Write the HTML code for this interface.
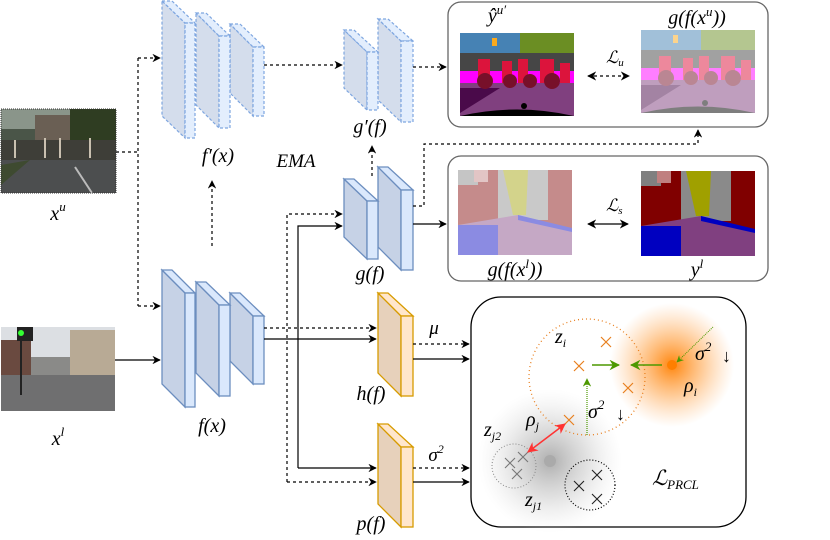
<!DOCTYPE html>
<html><head><meta charset="utf-8"><style>
html,body{margin:0;padding:0;background:#fff}
svg{display:block}
text{font-family:"Liberation Serif",serif;font-style:italic;fill:#000}
</style></head><body>
<svg width="830" height="540" viewBox="0 0 830 540" xmlns="http://www.w3.org/2000/svg">
<defs>
<marker id="ah" viewBox="0 0 10 10" refX="9" refY="5" markerWidth="7" markerHeight="7" orient="auto-start-reverse"><path d="M0,0 L10,5 L0,10 L3,5 Z" fill="#000"/></marker>
<marker id="ag" viewBox="0 0 10 10" refX="9" refY="5" markerWidth="7" markerHeight="7" orient="auto-start-reverse"><path d="M0,0 L10,5 L0,10 L3,5 Z" fill="#4d9900"/></marker>
<marker id="ar" viewBox="0 0 10 10" refX="9" refY="5" markerWidth="7" markerHeight="7" orient="auto-start-reverse"><path d="M0,0 L10,5 L0,10 L3,5 Z" fill="#ff3333"/></marker>
<radialGradient id="og"><stop offset="0" stop-color="#ff7f00" stop-opacity="0.95"/><stop offset="0.5" stop-color="#ff9933" stop-opacity="0.5"/><stop offset="1" stop-color="#ffb066" stop-opacity="0"/></radialGradient>
<radialGradient id="gg"><stop offset="0" stop-color="#999" stop-opacity="0.8"/><stop offset="0.5" stop-color="#bbb" stop-opacity="0.45"/><stop offset="1" stop-color="#ddd" stop-opacity="0"/></radialGradient>
<g id="segU">
<rect x="0" y="0" width="114" height="83" fill="#6b8e23"/>
<rect x="0" y="0" width="60" height="30" fill="#4682b4"/>
<rect x="0" y="20" width="114" height="25" fill="#464646"/>
<rect x="0" y="38" width="114" height="15" fill="#ff00ff"/>
<rect x="0" y="50" width="114" height="33" fill="#80407f"/>
<polygon points="0,55 40,55 0,80" fill="#4a0a4a"/>
<g fill="#dc143c"><rect x="18" y="26" width="12" height="26"/><rect x="42" y="28" width="10" height="22"/><rect x="58" y="26" width="10" height="24"/><rect x="80" y="26" width="14" height="24"/><rect x="100" y="30" width="10" height="20"/></g>
<g fill="#77102a"><circle cx="25" cy="48" r="8"/><circle cx="50" cy="48" r="7"/><circle cx="70" cy="48" r="7"/><circle cx="92" cy="48" r="8"/></g>
<rect x="32" y="5" width="5" height="8" fill="#faaa1e"/>
<path d="M0,83 Q57,70 114,83 Z" fill="#000"/><circle cx="64" cy="73" r="3" fill="#000"/>
</g>
<g id="segL">
<rect x="0" y="0" width="114" height="85" fill="#800000"/>
<rect x="0" y="0" width="20" height="15" fill="#808080"/>
<rect x="40" y="0" width="50" height="50" fill="#8a8a8a"/>
<polygon points="45,0 70,0 68,45 55,45" fill="#a0a000"/>
<rect x="16" y="0" width="14" height="12" fill="#c08080"/>
<polygon points="0,55 60,45 114,60 114,85 0,85" fill="#804080"/>
<polygon points="0,55 40,55 40,85 0,85" fill="#0000c0"/>
<polygon points="60,45 114,58 114,62 60,50" fill="#0000c0"/>
</g>
</defs>

<g>
<rect x="1" y="109" width="115" height="84" fill="#4a5548"/>
<rect x="1" y="109" width="115" height="20" fill="#8a958a"/>
<rect x="35" y="115" width="40" height="28" fill="#6a5f54"/>
<rect x="70" y="109" width="46" height="38" fill="#2f3d22"/>
<rect x="1" y="140" width="115" height="20" fill="#3e3e38"/>
<rect x="1" y="160" width="115" height="33" fill="#4c4e4f"/>
<polygon points="1,165 30,160 1,185" fill="#3e4a30"/>
<g stroke="#c9c0b0" stroke-width="2"><line x1="15" y1="140" x2="15" y2="158"/><line x1="45" y1="138" x2="45" y2="158"/><line x1="60" y1="138" x2="60" y2="158"/><line x1="90" y1="138" x2="90" y2="158"/></g>
<line x1="75" y1="167" x2="92" y2="193" stroke="#bbb" stroke-width="2"/>
<rect x="1" y="109" width="115" height="84" fill="none" stroke="#333" stroke-width="1" stroke-dasharray="1 1"/>
</g>
<g>
<rect x="1" y="327" width="114" height="84" fill="#8a8a88"/>
<rect x="1" y="327" width="114" height="30" fill="#dcdfe3"/>
<rect x="1" y="340" width="30" height="40" fill="#6a4a40"/>
<rect x="70" y="330" width="45" height="50" fill="#b8aa95"/>
<rect x="1" y="375" width="114" height="36" fill="#6f6f70"/>
<rect x="17" y="327" width="16" height="14" fill="#222"/><circle cx="21" cy="333" r="3" fill="#3f3"/>
<line x1="21" y1="341" x2="21" y2="395" stroke="#222" stroke-width="2"/>
</g>

<rect x="448" y="2" width="320" height="125" rx="13" fill="none" stroke="#666" stroke-width="1.3"/>
<use href="#segU" x="460" y="33"/>
<g opacity="0.5"><use href="#segU" x="641" y="30"/></g>
<text x="497" y="22" font-size="20" text-anchor="middle">ŷ<tspan font-size="13" dy="-8">u′</tspan></text>
<text x="697" y="24" font-size="20" text-anchor="middle">g(f(x<tspan font-size="13" dy="-8">u</tspan><tspan dy="8">))</tspan></text>
<text x="606" y="63" font-size="17">ℒ<tspan font-size="11" dy="3">u</tspan></text>
<line x1="588" y1="76" x2="629" y2="76" stroke="#000" stroke-width="1.3" stroke-dasharray="3 3" marker-start="url(#ah)" marker-end="url(#ah)"/>

<rect x="448" y="156" width="320" height="125" rx="13" fill="none" stroke="#666" stroke-width="1.3"/>
<g opacity="0.45"><use href="#segL" x="458" y="170"/></g>
<use href="#segL" x="641" y="171"/>
<text x="515" y="276" font-size="20" text-anchor="middle">g(f(x<tspan font-size="13" dy="-8">l</tspan><tspan dy="8">))</tspan></text>
<text x="697" y="276" font-size="20" text-anchor="middle">y<tspan font-size="13" dy="-8">l</tspan></text>
<text x="606" y="211" font-size="17">ℒ<tspan font-size="11" dy="3">s</tspan></text>
<line x1="588" y1="224" x2="628" y2="224" stroke="#000" stroke-width="1.3" marker-start="url(#ah)" marker-end="url(#ah)"/>

<rect x="471" y="297" width="275" height="230" rx="30" fill="#fff" stroke="#000" stroke-width="1.3"/>
<circle cx="672" cy="365" r="62" fill="url(#og)"/>
<circle cx="550" cy="461" r="72" fill="url(#gg)"/>
<circle cx="672" cy="365" r="5" fill="#ff7f00"/>
<circle cx="550" cy="461" r="6" fill="#aaa"/>
<circle cx="587" cy="377" r="58" fill="none" stroke="#e87f1e" stroke-width="1.3" stroke-dasharray="1 3"/>
<circle cx="514" cy="466" r="22" fill="none" stroke="#888" stroke-width="1" stroke-dasharray="1 2"/>
<circle cx="590" cy="485" r="25" fill="none" stroke="#000" stroke-width="1.2" stroke-dasharray="1 2"/>
<g stroke="#e87f1e" stroke-width="1.2" fill="none">
<path d="M601,337 l10,10 M611,337 l-10,10"/><path d="M574,361 l10,10 M584,361 l-10,10"/><path d="M623,383 l10,10 M633,383 l-10,10"/><path d="M564,415 l10,10 M574,415 l-10,10"/>
</g>
<g stroke="#777" stroke-width="1.1" fill="none">
<path d="M505,458 l10,10 M515,458 l-10,10"/><path d="M518,452 l10,10 M528,452 l-10,10"/><path d="M512,469 l10,10 M522,469 l-10,10"/>
</g>
<g stroke="#222" stroke-width="1.1" fill="none">
<path d="M574,481 l10,10 M584,481 l-10,10"/><path d="M592,470 l10,10 M602,470 l-10,10"/><path d="M592,494 l10,10 M602,494 l-10,10"/>
</g>
<line x1="592" y1="365" x2="619" y2="365" stroke="#4d9900" stroke-width="1.5" marker-end="url(#ag)"/>
<line x1="662" y1="365" x2="631" y2="365" stroke="#4d9900" stroke-width="1.5" marker-end="url(#ag)"/>
<line x1="713" y1="327" x2="677" y2="362" stroke="#4d9900" stroke-width="1" stroke-dasharray="1 1" marker-end="url(#ag)"/>
<line x1="587" y1="435" x2="587" y2="379" stroke="#4d9900" stroke-width="1.2" stroke-dasharray="1 1" marker-end="url(#ag)"/>
<line x1="565" y1="424" x2="528" y2="452" stroke="#ff3333" stroke-width="1.5" marker-start="url(#ar)" marker-end="url(#ar)"/>
<text x="695" y="360" font-size="20">σ<tspan font-size="13" dy="-9">2</tspan></text>
<text x="722" y="362" font-size="18" font-style="normal" font-family="DejaVu Sans">↓</text>
<text x="588" y="418" font-size="20">σ<tspan font-size="13" dy="-9">2</tspan></text>
<text x="616" y="420" font-size="18" font-style="normal" font-family="DejaVu Sans">↓</text>
<text x="684" y="392" font-size="20" fill="#33001a">ρ<tspan font-size="12" dy="4">i</tspan></text>
<text x="526" y="426" font-size="20" fill="#33001a">ρ<tspan font-size="12" dy="4">j</tspan></text>
<text x="555" y="343" font-size="20" fill="#33001a">z<tspan font-size="12" dy="4">i</tspan></text>
<text x="484" y="436" font-size="20" fill="#33001a">z<tspan font-size="12" dy="4">j2</tspan></text>
<text x="525" y="506" font-size="20" fill="#33001a">z<tspan font-size="12" dy="4">j1</tspan></text>
<text x="652" y="485" font-size="21">ℒ<tspan font-size="13" dy="4">PRCL</tspan></text>

<g stroke="#7ea6e0" stroke-width="1.2" stroke-dasharray="3 2" fill-opacity="0.75">
<g fill="#c6d2e6"><polygon points="162,1 185,23 185,138 162,116"/><polygon points="196,13 219,36 219,128 196,105"/><polygon points="230,24 253,47 253,116 230,93"/><polygon points="344,30 367,52 367,110 344,88"/><polygon points="378,19 401,41 401,122 378,100"/></g>
<g fill="#dae8fc"><polygon points="162,1 172,1 195,23 185,23"/><rect x="185" y="23" width="10" height="115"/><polygon points="196,13 206,13 230,36 219,36"/><rect x="219" y="36" width="11" height="92"/><polygon points="230,24 240,24 264,47 253,47"/><rect x="253" y="47" width="11" height="69"/><polygon points="344,30 354,30 378,52 367,52"/><rect x="367" y="52" width="11" height="58"/><polygon points="378,19 388,19 413,41 401,41"/><rect x="401" y="41" width="12" height="81"/></g>
</g>
<g stroke="#6c8ebf" stroke-width="1.3">
<g fill="#c6d2e6"><polygon points="162,270 185,293 185,407 162,384"/><polygon points="196,282 219,305 219,396 196,373"/><polygon points="230,293 253,316 253,384 230,361"/><polygon points="344,179 367,201 367,259 344,237"/><polygon points="378,167 401,190 401,270 378,247"/></g>
<g fill="#dae8fc"><polygon points="162,270 172,270 195,293 185,293"/><rect x="185" y="293" width="10" height="114"/><polygon points="196,282 206,282 230,305 219,305"/><rect x="219" y="305" width="11" height="91"/><polygon points="230,293 240,293 264,316 253,316"/><rect x="253" y="316" width="11" height="68"/><polygon points="344,179 354,179 378,201 367,201"/><rect x="367" y="201" width="11" height="58"/><polygon points="378,167 388,167 413,190 401,190"/><rect x="401" y="190" width="12" height="80"/></g>
</g>
<g stroke="#d79b00" stroke-width="1.3">
<g fill="#e7d1bb"><polygon points="378,293 401,316 401,396 378,373"/><polygon points="378,424 401,447 401,527 378,504"/></g>
<g fill="#ffe6cc"><polygon points="378,293 388,293 413,316 401,316"/><rect x="401" y="316" width="12" height="80"/><polygon points="378,424 388,424 413,447 401,447"/><rect x="401" y="447" width="12" height="80"/></g>
</g>

<g fill="none" stroke="#000" stroke-width="1.2">
<g stroke-dasharray="3 3">
<path d="M116,152 H138"/>
<path d="M138,58 V306"/>
<path d="M138,58 H160" marker-end="url(#ah)"/>
<path d="M138,306 H160" marker-end="url(#ah)"/>
<path d="M264,65 H342" marker-end="url(#ah)"/>
<path d="M413,67 H446" marker-end="url(#ah)"/>
<path d="M212,246 V181" marker-end="url(#ah)"/>
<path d="M372,176 V146" marker-end="url(#ah)"/>
<path d="M413,206 H424 V144 H698 V130" marker-end="url(#ah)"/>
<path d="M264,328 H376" marker-end="url(#ah)"/>
<path d="M287,482 V214 H342" marker-end="url(#ah)"/>
<path d="M287,482 H376" marker-end="url(#ah)"/>
<path d="M413,344 H469" marker-end="url(#ah)"/>
<path d="M413,468 H469" marker-end="url(#ah)"/>
</g>
<path d="M115,360 H160" marker-end="url(#ah)"/>
<path d="M413,224 H446" marker-end="url(#ah)"/>
<path d="M264,339 H376" marker-end="url(#ah)"/>
<path d="M298,468 V226 H342" marker-end="url(#ah)"/>
<path d="M298,468 H376" marker-end="url(#ah)"/>
<path d="M413,359 H469" marker-end="url(#ah)"/>
<path d="M413,482 H469" marker-end="url(#ah)"/>
</g>

<text x="218" y="162" font-size="20" text-anchor="middle">f′(x)</text>
<text x="296" y="167" font-size="19" text-anchor="middle">EMA</text>
<text x="370" y="133" font-size="20" text-anchor="middle">g′(f)</text>
<text x="58" y="220" font-size="20" text-anchor="middle">x<tspan font-size="13" dy="-9">u</tspan></text>
<text x="370" y="280" font-size="20" text-anchor="middle">g(f)</text>
<text x="212" y="432" font-size="20" text-anchor="middle">f(x)</text>
<text x="58" y="445" font-size="20" text-anchor="middle">x<tspan font-size="13" dy="-9">l</tspan></text>
<text x="371" y="400" font-size="20" text-anchor="middle">h(f)</text>
<text x="371" y="530" font-size="20" text-anchor="middle">p(f)</text>
<text x="434" y="334" font-size="19" text-anchor="middle">μ</text>
<text x="436" y="461" font-size="19" text-anchor="middle">σ<tspan font-size="12" dy="-8">2</tspan></text>
</svg>
</body></html>
